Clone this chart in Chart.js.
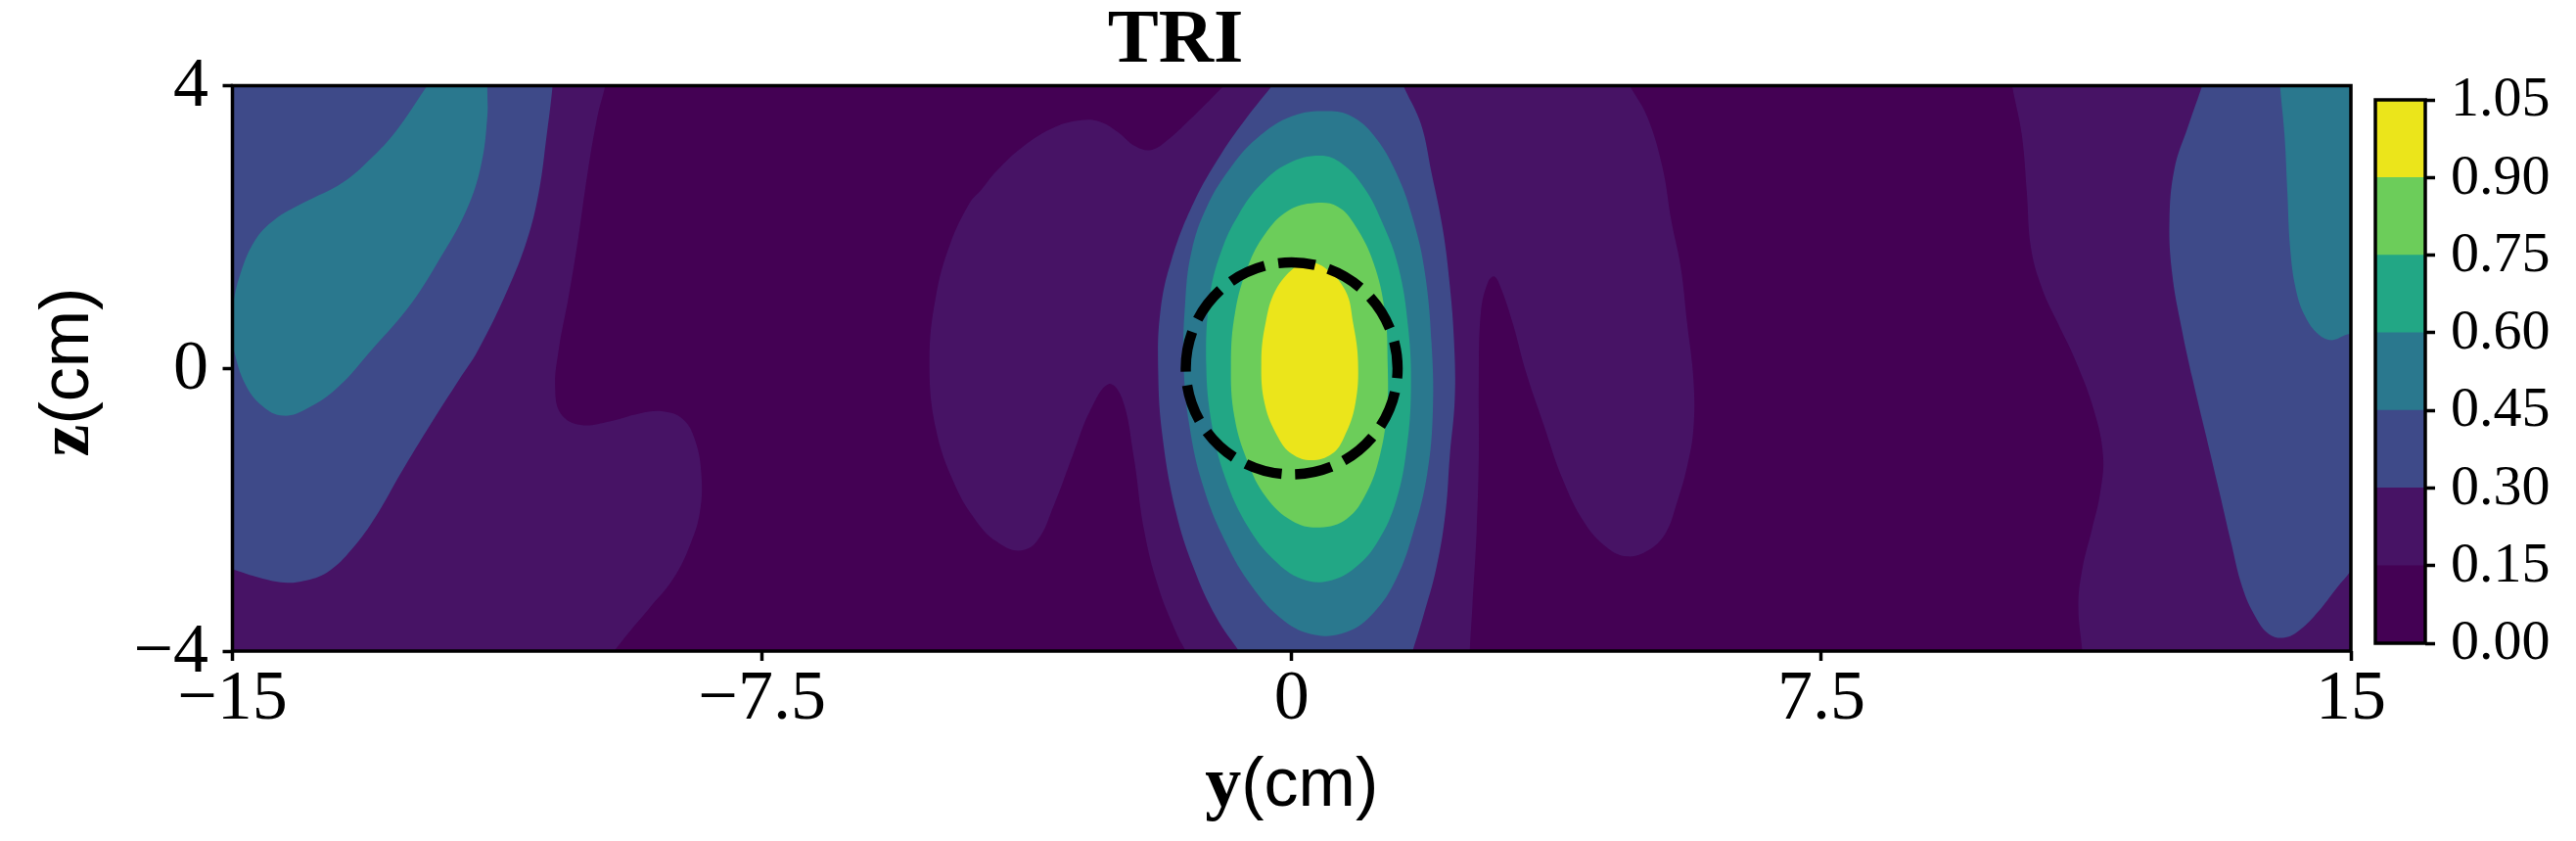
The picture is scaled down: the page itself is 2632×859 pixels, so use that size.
<!DOCTYPE html>
<html>
<head>
<meta charset="utf-8">
<script src="https://cdn.jsdelivr.net/npm/chart.js@4.4.1/dist/chart.umd.min.js"></script>
<style>
  html, body { margin: 0; padding: 0; background: #fff; }
  #wrap { position: relative; width: 2632px; height: 859px; }
  #fieldChart { position: absolute; left: 0; top: 0; }
  #barChart { position: absolute; left: 2400px; top: 0; }
</style>
</head>
<body>
<div id="wrap">
  <canvas id="fieldChart" width="2632" height="859"></canvas>
  <canvas id="barChart" width="232" height="859"></canvas>
</div>
<script>
// --- Axis ticks and levels ---
const yTicks = [-15, -7.5, 0, 7.5, 15];
const zTicks = [-4, 0, 4];
const levelEdges = [0, 0.15, 0.30, 0.45, 0.60, 0.75, 0.90, 1.05];
const levelColors = ['#440154', '#471365', '#3e4a89', '#2a788e', '#22a785', '#6ccd5a', '#ebe51b'];

// --- Contour outlines, [y, z] in cm ---
const fieldFrame = [[-16, -5], [16, -5], [16, 5], [-16, 5]];

const lvl1West = [[-16, 5], [-9.62, 5], [-9.66, 4.3], [-9.73, 3.96], [-9.83, 3.57], [-9.97, 2.77], [-10.10, 1.86],
  [-10.24, 1.01], [-10.38, 0.26], [-10.43, -0.27], [-10.35, -0.64], [-10.07, -0.80], [-9.66, -0.75], [-9.24, -0.64],
  [-8.90, -0.61], [-8.62, -0.72], [-8.45, -1.01], [-8.36, -1.49], [-8.38, -2.03], [-8.52, -2.50], [-8.76, -2.98],
  [-9.11, -3.41], [-9.38, -3.73], [-9.62, -4.04], [-9.85, -4.4], [-9.9, -5], [-16, -5]];
const lvl1Centre = [[-0.62, 5], [4.56, 5], [4.59, 4.3], [4.81, 3.96], [5.04, 3.55], [5.25, 2.85], [5.38, 2.07],
  [5.51, 1.43], [5.60, 0.64], [5.69, -0.16], [5.69, -0.85], [5.60, -1.39], [5.45, -1.92], [5.29, -2.34], [5.04, -2.58],
  [4.75, -2.66], [4.46, -2.53], [4.15, -2.19], [3.83, -1.55], [3.57, -0.80], [3.32, -0.06], [3.13, 0.64], [2.97, 1.12],
  [2.87, 1.30], [2.78, 1.22], [2.68, 0.80], [2.65, -0.16], [2.65, -1.23], [2.62, -2.29], [2.56, -3.36], [2.52, -4.04],
  [2.51, -4.4], [2.5, -5], [-1.25, -5], [-1.30, -4.4], [-1.48, -4.04], [-1.64, -3.73], [-1.89, -3.09], [-2.09, -2.29],
  [-2.24, -1.23], [-2.40, -0.43], [-2.59, -0.22], [-2.85, -0.59], [-3.10, -1.23], [-3.36, -1.92], [-3.61, -2.45],
  [-3.87, -2.58], [-4.18, -2.45], [-4.46, -2.17], [-4.77, -1.65], [-5.04, -0.85], [-5.13, 0.10], [-5.04, 1.01],
  [-4.84, 1.75], [-4.56, 2.34], [-4.40, 2.52], [-4.18, 2.79], [-3.80, 3.14], [-3.36, 3.41], [-2.98, 3.51], [-2.72, 3.49],
  [-2.47, 3.35], [-2.21, 3.14], [-1.99, 3.09], [-1.77, 3.22], [-1.45, 3.51], [-1.0, 3.96], [-0.66, 4.3]];
const lvl1East = [[10.12, 5], [16, 5], [16, -5], [11.25, -5], [11.22, -4.4], [11.20, -4.04], [11.14, -3.36],
  [11.20, -2.82], [11.33, -2.29], [11.45, -1.76], [11.49, -1.23], [11.36, -0.59], [11.10, 0.11], [10.85, 0.64],
  [10.63, 1.12], [10.47, 1.70], [10.41, 2.50], [10.34, 3.30], [10.21, 3.96], [10.15, 4.3]];

const lvl2West = [[-16, 5], [-10.44, 5], [-10.45, 4.3], [-10.47, 3.96], [-10.55, 3.30], [-10.66, 2.50], [-10.83, 1.81],
  [-11.10, 1.12], [-11.52, 0.26], [-11.79, -0.16], [-12.20, -0.80], [-12.62, -1.49], [-12.96, -2.08], [-13.31, -2.56],
  [-13.65, -2.88], [-14.00, -3.01], [-14.27, -3.03], [-14.62, -2.96], [-14.97, -2.85], [-15.3, -2.72], [-16, -2.6]];
const lvl2Centre = [[-0.05, 5], [1.40, 5], [1.45, 4.3], [1.60, 3.96], [1.83, 3.46], [1.98, 2.77], [2.14, 1.97],
  [2.24, 1.17], [2.30, 0.37], [2.31, -0.43], [2.24, -1.23], [2.18, -2.03], [2.05, -2.82], [1.86, -3.52], [1.70, -4.04],
  [1.59, -4.4], [1.55, -5], [-0.45, -5], [-0.48, -4.4], [-0.72, -4.04], [-1.07, -3.52], [-1.39, -2.82], [-1.64, -2.03],
  [-1.83, -0.96], [-1.89, -0.06], [-1.86, 0.80], [-1.70, 1.54], [-1.39, 2.34], [-1.00, 3.03], [-0.62, 3.57],
  [-0.31, 3.96], [-0.04, 4.3]];
const lvl2East = [[13.0, 5], [16, 5], [16, -2.4], [15.3, -2.52], [14.95, -2.93], [14.79, -3.12], [14.54, -3.44],
  [14.28, -3.70], [14.06, -3.81], [13.84, -3.76], [13.65, -3.52], [13.46, -3.09], [13.30, -2.45], [13.14, -1.76],
  [12.95, -0.96], [12.76, -0.16], [12.60, 0.58], [12.47, 1.33], [12.43, 2.07], [12.50, 2.82], [12.69, 3.41],
  [12.88, 3.96], [12.99, 4.3]];

const lvl3West = [[-12.0, 4.6], [-11.36, 4.6], [-11.38, 4.3], [-11.39, 3.96], [-11.39, 3.57], [-11.48, 2.87],
  [-11.69, 2.23], [-12.07, 1.54], [-12.48, 0.90], [-13.03, 0.26], [-13.51, -0.27], [-13.93, -0.56], [-14.28, -0.67],
  [-14.58, -0.53], [-14.82, -0.22], [-14.98, 0.26], [-15.02, 0.55], [-15.0, 0.85], [-14.89, 1.33], [-14.68, 1.81],
  [-14.41, 2.10], [-14.00, 2.34], [-13.44, 2.63], [-13.03, 2.98], [-12.69, 3.35], [-12.27, 3.96], [-12.04, 4.3]];
const lvl3Centre = [[0.52, 3.64], [0.84, 3.57], [1.16, 3.30], [1.48, 2.77], [1.73, 2.07], [1.89, 1.33], [1.98, 0.37],
  [2.00, -0.59], [1.92, -1.49], [1.73, -2.29], [1.48, -2.98], [1.16, -3.46], [0.78, -3.73], [0.33, -3.77],
  [-0.11, -3.57], [-0.56, -3.09], [-0.94, -2.45], [-1.26, -1.65], [-1.45, -0.80], [-1.53, 0.05], [-1.51, 0.90],
  [-1.42, 1.65], [-1.20, 2.29], [-0.88, 2.82], [-0.50, 3.25], [0.01, 3.57]];
const lvl3East = [[13.97, 5], [16, 5], [16, 0.62], [15.3, 0.55], [14.95, 0.48], [14.73, 0.40], [14.54, 0.48],
  [14.35, 0.74], [14.22, 1.12], [14.14, 1.70], [14.10, 2.50], [14.06, 3.30], [14.00, 3.96], [13.98, 4.3]];

const lvl4Centre = [[0.40, 3.01], [0.71, 2.90], [1.03, 2.55], [1.28, 2.07], [1.51, 1.44], [1.65, 0.58], [1.69, -0.27],
  [1.63, -1.12], [1.48, -1.87], [1.22, -2.45], [0.90, -2.82], [0.52, -3.01], [0.14, -2.98], [-0.24, -2.72],
  [-0.62, -2.24], [-0.94, -1.55], [-1.13, -0.80], [-1.21, 0.05], [-1.16, 1.01], [-1.00, 1.65], [-0.75, 2.18],
  [-0.43, 2.61], [-0.05, 2.90]];
const lvl5Centre = [[0.33, 2.34], [0.65, 2.29], [0.90, 2.02], [1.16, 1.49], [1.32, 0.80], [1.36, 0.05], [1.35, -0.59],
  [1.25, -1.23], [1.06, -1.76], [0.78, -2.13], [0.40, -2.25], [0.01, -2.16], [-0.37, -1.81], [-0.62, -1.33],
  [-0.81, -0.69], [-0.86, 0.05], [-0.80, 0.80], [-0.62, 1.44], [-0.37, 1.91], [-0.05, 2.23]];
const lvl6Centre = [[0.21, 1.50], [0.46, 1.43], [0.76, 1.10], [0.87, 0.64], [0.94, 0.09], [0.90, -0.51], [0.74, -0.98],
  [0.57, -1.21], [0.28, -1.30], [0.0, -1.21], [-0.19, -0.98], [-0.38, -0.51], [-0.43, 0.09], [-0.37, 0.64],
  [-0.23, 1.10], [0.04, 1.43]];

// dashed target outline
const targetCircle = { y: 0, z: 0, r: 1.5 };

Chart.defaults.font.family = "'Liberation Serif', serif";
Chart.defaults.color = '#000';

// --- Build one filled dataset per outline, higher levels drawn on top ---
const layers = [
  { level: 0, shapes: [fieldFrame], loop: false },
  { level: 1, shapes: [lvl1West, lvl1Centre, lvl1East], loop: false },
  { level: 2, shapes: [lvl2West, lvl2Centre, lvl2East], loop: false },
  { level: 3, shapes: [lvl3West, lvl3East], loop: false },
  { level: 3, shapes: [lvl3Centre], loop: true },
  { level: 4, shapes: [lvl4Centre], loop: true },
  { level: 5, shapes: [lvl5Centre], loop: true },
  { level: 6, shapes: [lvl6Centre], loop: true }
];

const datasets = [];
layers.forEach((layer) => {
  layer.shapes.forEach((pts) => {
    // closed outlines get their neighbours repeated so the curve joins smoothly
    const path = layer.loop ? [pts[pts.length - 1], ...pts, pts[0], pts[1]] : pts;
    datasets.push({
      data: path.map(([y, z]) => ({ x: y, y: z })),
      backgroundColor: levelColors[layer.level],
      fill: 'shape',
      borderWidth: 0,
      pointRadius: 0,
      tension: layer.level === 0 ? 0 : 0.4,
      capBezierPoints: false,
      order: -layer.level
    });
  });
});

function fmtTick(v) {
  return v < 0 ? '\u2212' + Math.abs(v) : String(v);
}

function drawMixed(ctx, parts, cx, baseline) {
  let total = 0;
  parts.forEach((p) => { ctx.font = p.font; p.w = ctx.measureText(p.text).width; total += p.w; });
  let x = cx - total / 2;
  ctx.textAlign = 'left';
  ctx.textBaseline = 'alphabetic';
  parts.forEach((p) => { ctx.font = p.font; ctx.fillText(p.text, x, baseline); x += p.w; });
}

const boldSerif = "bold 74px 'Liberation Serif'";
const plainSans = "70px 'Liberation Sans'";

const fieldOverlay = {
  id: 'fieldOverlay',
  afterDatasetsDraw(chart) {
    const { ctx, chartArea: a, scales: { x, y } } = chart;
    // dashed circle
    ctx.save();
    ctx.beginPath();
    ctx.rect(a.left, a.top, a.width, a.height);
    ctx.clip();
    const cx = x.getPixelForValue(targetCircle.y);
    const cy = y.getPixelForValue(targetCircle.z);
    const rx = Math.abs(x.getPixelForValue(targetCircle.y + targetCircle.r) - cx);
    const ry = Math.abs(y.getPixelForValue(targetCircle.z + targetCircle.r) - cy);
    ctx.beginPath();
    ctx.ellipse(cx, cy, rx, ry, 0, Math.PI, 3 * Math.PI);
    ctx.setLineDash([38, 14]);
    ctx.lineWidth = 10.5;
    ctx.strokeStyle = '#000';
    ctx.stroke();
    ctx.restore();

    // frame
    ctx.save();
    ctx.lineWidth = 3.5;
    ctx.strokeStyle = '#000';
    ctx.strokeRect(a.left, a.top, a.width, a.height);
    ctx.restore();
  },
  afterDraw(chart) {
    const { ctx, chartArea: a } = chart;
    ctx.save();
    ctx.fillStyle = '#000';
    drawMixed(ctx, [{ text: 'y', font: boldSerif }, { text: '(cm)', font: plainSans }], (a.left + a.right) / 2, 823);
    ctx.translate(90, 380);
    ctx.rotate(-Math.PI / 2);
    drawMixed(ctx, [{ text: 'z', font: boldSerif }, { text: '(cm)', font: plainSans }], 0, 0);
    ctx.restore();
  }
};

const tickGrid = {
  drawOnChartArea: false,
  drawTicks: true,
  tickLength: 10,
  tickWidth: 3.5,
  tickColor: '#000'
};

new Chart(document.getElementById('fieldChart'), {
  type: 'line',
  data: { datasets },
  options: {
    responsive: false,
    animation: false,
    devicePixelRatio: 1,
    layout: { padding: { left: 0, right: 230, top: 0, bottom: 0 } },
    plugins: {
      legend: { display: false },
      tooltip: { enabled: false },
      title: {
        display: true,
        text: 'TRI',
        color: '#000',
        font: { family: "'Liberation Serif', serif", size: 78, weight: 'bold', lineHeight: 1 },
        padding: { top: 4, bottom: 5.5 }
      }
    },
    scales: {
      x: {
        type: 'linear',
        min: -15,
        max: 15,
        afterBuildTicks: (s) => { s.ticks = yTicks.map((v) => ({ value: v })); },
        afterFit: (s) => { s.height = 194; },
        grid: tickGrid,
        border: { display: false },
        ticks: {
          font: { size: 72, lineHeight: 1 },
          padding: 4.5,
          maxRotation: 0,
          autoSkip: false,
          callback: fmtTick
        }
      },
      y: {
        type: 'linear',
        min: -4,
        max: 4,
        afterBuildTicks: (s) => { s.ticks = zTicks.map((v) => ({ value: v })); },
        afterFit: (s) => { s.width = 237.5; },
        grid: tickGrid,
        border: { display: false },
        ticks: {
          font: { size: 72, lineHeight: 1 },
          padding: 14.5,
          labelOffset: 2,
          autoSkip: false,
          callback: fmtTick
        }
      }
    }
  },
  plugins: [fieldOverlay]
});

// --- Colour bar ---
const barFrame = {
  id: 'barFrame',
  afterDatasetsDraw(chart) {
    const { ctx, chartArea: a } = chart;
    ctx.save();
    ctx.lineWidth = 3.5;
    ctx.strokeStyle = '#000';
    ctx.strokeRect(a.left, a.top, a.width, a.height);
    ctx.restore();
  }
};

new Chart(document.getElementById('barChart'), {
  type: 'bar',
  data: {
    labels: [''],
    datasets: levelColors.map((c, i) => ({
      data: [[levelEdges[i], levelEdges[i + 1]]],
      backgroundColor: c,
      borderWidth: 0,
      barPercentage: 1,
      categoryPercentage: 1,
      grouped: false
    }))
  },
  options: {
    responsive: false,
    animation: false,
    devicePixelRatio: 1,
    layout: { padding: { left: 27, right: 0, top: 102, bottom: 202 } },
    plugins: { legend: { display: false }, tooltip: { enabled: false } },
    scales: {
      x: { display: false },
      y: {
        position: 'right',
        min: 0,
        max: 1.05,
        afterBuildTicks: (s) => { s.ticks = levelEdges.map((v) => ({ value: v })); },
        afterFit: (s) => { s.width = 154; },
        grid: tickGrid,
        border: { display: false },
        ticks: {
          font: { size: 58, lineHeight: 1 },
          padding: 16,
          labelOffset: 1,
          autoSkip: false,
          callback: (v) => v.toFixed(2)
        }
      }
    }
  },
  plugins: [barFrame]
});
</script>
</body>
</html>
